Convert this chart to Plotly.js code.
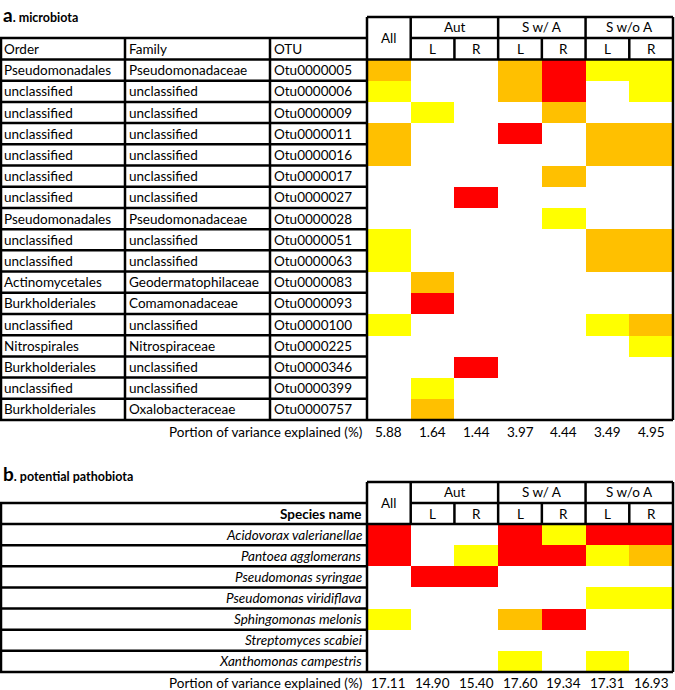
<!DOCTYPE html>
<html><head><meta charset="utf-8">
<script src="https://cdn.plot.ly/plotly-3.0.1.min.js"></script>
<style>body{margin:0;background:#fff}</style></head>
<body><div id="chart" style="width:675px;height:690px"></div>
<script>
// ---------- DATA ----------
const colLabels = ['All','Aut L','Aut R','S w/ A L','S w/ A R','S w/o A L','S w/o A R'];
const groupLabels = ['Aut','S w/ A','S w/o A'];
const subLabels = ['L','R'];
const tableHeadA = ['Order','Family','OTU'];
const orderA = ['Pseudomonadales','unclassified','unclassified','unclassified','unclassified','unclassified','unclassified','Pseudomonadales','unclassified','unclassified','Actinomycetales','Burkholderiales','unclassified','Nitrospirales','Burkholderiales','unclassified','Burkholderiales'];
const familyA = ['Pseudomonadaceae','unclassified','unclassified','unclassified','unclassified','unclassified','unclassified','Pseudomonadaceae','unclassified','unclassified','Geodermatophilaceae','Comamonadaceae','unclassified','Nitrospiraceae','unclassified','unclassified','Oxalobacteraceae'];
const otuA = ['Otu0000005','Otu0000006','Otu0000009','Otu0000011','Otu0000016','Otu0000017','Otu0000027','Otu0000028','Otu0000051','Otu0000063','Otu0000083','Otu0000093','Otu0000100','Otu0000225','Otu0000346','Otu0000399','Otu0000757'];
// 0 = none, 1 = yellow, 2 = orange, 3 = red
const levelsA = [
  [2,0,0,2,3,1,1],
  [1,0,0,2,3,0,1],
  [0,1,0,0,2,0,0],
  [2,0,0,3,0,2,2],
  [2,0,0,0,0,2,2],
  [0,0,0,0,2,0,0],
  [0,0,3,0,0,0,0],
  [0,0,0,0,1,0,0],
  [1,0,0,0,0,2,2],
  [1,0,0,0,0,2,2],
  [0,2,0,0,0,0,0],
  [0,3,0,0,0,0,0],
  [1,0,0,0,0,1,2],
  [0,0,0,0,0,0,1],
  [0,0,3,0,0,0,0],
  [0,1,0,0,0,0,0],
  [0,2,0,0,0,0,0]
];
const varianceA = ['5.88','1.64','1.44','3.97','4.44','3.49','4.95'];

const speciesB = ['Acidovorax valerianellae','Pantoea agglomerans','Pseudomonas syringae','Pseudomonas viridiflava','Sphingomonas melonis','Streptomyces scabiei','Xanthomonas campestris'];
const levelsB = [
  [3,0,0,3,1,3,3],
  [3,0,1,3,3,1,2],
  [0,3,3,0,0,0,0],
  [0,0,0,0,0,1,1],
  [1,0,0,2,3,0,0],
  [0,0,0,0,0,0,0],
  [0,0,0,1,0,1,0]
];
const varianceB = ['17.11','14.90','15.40','17.60','19.34','17.31','16.93'];

// ---------- LAYOUT HELPERS ----------
const W = 675, H = 690;
const X = p => p / W;
const Y = p => 1 - p / H;
const FONT = 'Lato, "Open Sans", sans-serif';
const FS = 13.5;
const colors = [[0,'#FFFFFF'],[0.25,'#FFFFFF'],[0.25,'#FFFF00'],[0.5,'#FFFF00'],[0.5,'#FFC000'],[0.75,'#FFC000'],[0.75,'#FF0000'],[1,'#FF0000']];

const heatL = 367, heatR = 673;
const colX = k => heatL + k * (heatR - heatL) / 7;
const LW = 2.5;
const shapes = [];
const annotations = [];
function line(x0, y0, x1, y1) {
  shapes.push({type:'line', xref:'paper', yref:'paper', x0:X(x0), y0:Y(y0), x1:X(x1), y1:Y(y1), line:{color:'#000', width:LW}});
}
function txt(text, x, y, xanchor, opts) {
  annotations.push(Object.assign({text:text, x:x, y:y, xref:'paper', yref:'paper', xanchor:xanchor||'center', yanchor:'middle', showarrow:false, font:{family:FONT, size:FS, color:'#000'}}, opts||{}));
}

function panel(p) {
  line(heatL, p.top, heatR, p.top);
  line(heatL, p.top, heatL, p.bottom);
  line(heatR, p.top, heatR, p.bottom);
  line(0, p.bottom, heatR, p.bottom);
  [1,3,5].forEach(k => line(colX(k), p.top, colX(k), p.data));
  [2,4,6].forEach(k => line(colX(k), p.sub, colX(k), p.data));
  line(colX(1), p.sub, heatR, p.sub);
  line(0, p.data, heatR, p.data);
  line(0, p.sub, heatL, p.sub);
  line(1, p.sub, 1, p.bottom);
  const rh = (p.bottom - p.data) / p.nRows;
  for (let i = 1; i < p.nRows; i++) line(0, p.data + i*rh, heatL, p.data + i*rh);
  txt('All', X((colX(0)+colX(1))/2), Y((p.top+p.data)/2));
  groupLabels.forEach((g, j) => {
    txt(g, X((colX(1+2*j)+colX(3+2*j))/2), Y((p.top+p.sub)/2));
    subLabels.forEach((s, m) => txt(s, X((colX(1+2*j+m)+colX(2+2*j+m))/2), Y((p.sub+p.data)/2)));
  });
}

// Panel a
const A = {top:17, sub:38, data:59.5, bottom:420, nRows:otuA.length};
panel(A);
line(125, A.sub, 125, A.bottom);
line(270, A.sub, 270, A.bottom);
const tableXA = [2, 127, 272];
tableHeadA.forEach((h, j) => txt(h, X(tableXA[j]), Y((A.sub+A.data)/2), 'left'));
[orderA, familyA, otuA].forEach((arr, j) => arr.forEach((v, i) => {
  annotations.push({text:v, x:X(tableXA[j]), y:otuA[i], xref:'paper', yref:'y', xanchor:'left', yanchor:'middle', showarrow:false, font:{family:FONT, size:FS, color:'#000'}});
}));
txt('Portion of variance explained (%)', X(364), Y(432), 'right');
varianceA.forEach((v, k) => annotations.push({text:v, x:k, y:Y(432), xref:'x', yref:'paper', yanchor:'middle', showarrow:false, font:{family:FONT, size:FS, color:'#000'}}));
txt('<b><span style="font-size:19px">a</span>. microbiota</b>', X(1), Y(1), 'left', {yanchor:'top', font:{family:FONT, size:12.5, color:'#000'}});

// Panel b
const B = {top:482, sub:503, data:524, bottom:672, nRows:speciesB.length};
panel(B);
txt('<b>Species name</b>', X(364), Y((B.sub+B.data)/2), 'right');
speciesB.forEach((s, i) => annotations.push({text:'<i>'+s+'</i>', x:X(364), y:s, xref:'paper', yref:'y2', xanchor:'right', yanchor:'middle', showarrow:false, font:{family:FONT, size:FS, color:'#000'}}));
txt('Portion of variance explained (%)', X(364), Y(683), 'right');
varianceB.forEach((v, k) => annotations.push({text:v, x:k, y:Y(683), xref:'x2', yref:'paper', yanchor:'middle', showarrow:false, font:{family:FONT, size:FS, color:'#000'}}));
txt('<b><span style="font-size:19px">b</span>. potential pathobiota</b>', X(1), Y(460), 'left', {yanchor:'top', font:{family:FONT, size:12.5, color:'#000'}});

const traces = [
  {type:'heatmap', x:colLabels, y:otuA, z:levelsA, xaxis:'x', yaxis:'y', zmin:-0.5, zmax:3.5, colorscale:colors, showscale:false, hoverinfo:'skip'},
  {type:'heatmap', x:colLabels, y:speciesB, z:levelsB, xaxis:'x2', yaxis:'y2', zmin:-0.5, zmax:3.5, colorscale:colors, showscale:false, hoverinfo:'skip'}
];
const ax = (d, r) => ({domain:d, range:r, type:'category', visible:false, showgrid:false, zeroline:false, fixedrange:true});
const layout = {
  width:W, height:H, margin:{l:0, r:0, t:0, b:0},
  paper_bgcolor:'#fff', plot_bgcolor:'#fff', showlegend:false,
  xaxis: Object.assign(ax([X(heatL), X(heatR)], [-0.5, 6.5]), {anchor:'y'}),
  yaxis: Object.assign(ax([Y(A.bottom), Y(A.data)], [otuA.length-0.5, -0.5]), {anchor:'x'}),
  xaxis2: Object.assign(ax([X(heatL), X(heatR)], [-0.5, 6.5]), {anchor:'y2'}),
  yaxis2: Object.assign(ax([Y(B.bottom), Y(B.data)], [speciesB.length-0.5, -0.5]), {anchor:'x2'}),
  shapes: shapes, annotations: annotations,
  font:{family:FONT, size:FS, color:'#000'}
};
Plotly.newPlot('chart', traces, layout, {displayModeBar:false, staticPlot:true});
</script></body></html>
